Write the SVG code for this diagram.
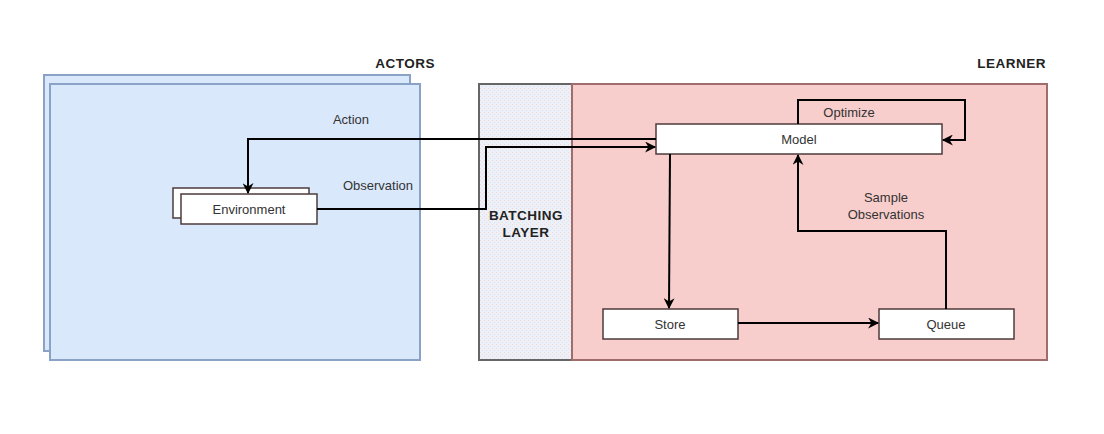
<svg xmlns="http://www.w3.org/2000/svg" width="1104" height="434" viewBox="0 0 1104 434">
<defs>
<marker id="arr" viewBox="0 0 10 10" refX="9" refY="5" markerWidth="12" markerHeight="11" markerUnits="userSpaceOnUse" orient="auto">
<path d="M0,0 L10,5 L0,10 L3,5 Z" fill="#000"/>
</marker>
<pattern id="dots" width="4" height="4" patternUnits="userSpaceOnUse">
<rect width="4" height="4" fill="#eef0f7"/>
<rect x="0" y="0" width="1" height="1" fill="#f3d6d6"/>
<rect x="2" y="2" width="1" height="1" fill="#d8e2f5"/>
</pattern>
</defs>
<style>
.lbl{font-family:"Liberation Sans",Arial,sans-serif;font-size:13px;fill:#333;}
.bold{font-family:"Liberation Sans",Arial,sans-serif;font-size:13.5px;font-weight:bold;fill:#222;letter-spacing:0.5px;}
.box{fill:#fff;stroke:#4d3b3b;stroke-width:1.5;}
.conn{fill:none;stroke:#000;stroke-width:2;}
</style>
<rect width="1104" height="434" fill="#fff"/>
<g id="actors">
<rect x="44" y="75" width="366" height="276" fill="#dae8fc" stroke="#8aa2c6" stroke-width="2"/>
<rect x="50" y="84" width="370" height="276" fill="#dae8fc" stroke="#8aa2c6" stroke-width="2"/>
<text class="bold" x="435" y="68" text-anchor="end">ACTORS</text>
</g>
<g id="batching">
<rect x="479" y="84" width="93" height="276" fill="url(#dots)" stroke="#666" stroke-width="2"/>
<text class="bold" x="526" y="220" text-anchor="middle">BATCHING</text>
<text class="bold" x="526" y="237" text-anchor="middle">LAYER</text>
</g>
<g id="learner">
<rect x="572" y="84" width="475" height="276" fill="#f8cecc" stroke="#a06c6c" stroke-width="2"/>
<text class="bold" x="1046" y="68" text-anchor="end">LEARNER</text>
</g>
<g id="environment">
<rect class="box" x="173" y="188" width="136" height="30"/>
<rect class="box" x="181" y="194" width="136" height="30"/>
<text class="lbl" x="249" y="214" text-anchor="middle">Environment</text>
</g>
<g id="model">
<rect class="box" x="656" y="124" width="286" height="30"/>
<text class="lbl" x="799" y="144" text-anchor="middle">Model</text>
</g>
<g id="store">
<rect class="box" x="603" y="309" width="135" height="30"/>
<text class="lbl" x="670" y="329" text-anchor="middle">Store</text>
</g>
<g id="queue">
<rect class="box" x="879" y="309" width="135" height="30"/>
<text class="lbl" x="946" y="329" text-anchor="middle">Queue</text>
</g>
<g id="connectors">
<path class="conn" d="M656,139 L248,139 L248,193" marker-end="url(#arr)"/>
<path class="conn" d="M317,209 L486,209 L486,147 L655,147" marker-end="url(#arr)"/>
<path class="conn" d="M798,124 L798,100 L965,100 L965,140 L943,140" marker-end="url(#arr)"/>
<path class="conn" d="M670,154 L669,308" marker-end="url(#arr)"/>
<path class="conn" d="M738,323 L878,323" marker-end="url(#arr)"/>
<path class="conn" d="M946,309 L946,231 L798,231 L798,155" marker-end="url(#arr)"/>
<text class="lbl" x="351" y="124" text-anchor="middle">Action</text>
<text class="lbl" x="378" y="190" text-anchor="middle">Observation</text>
<text class="lbl" x="849" y="117" text-anchor="middle">Optimize</text>
<text class="lbl" x="886" y="202" text-anchor="middle">Sample</text>
<text class="lbl" x="886" y="219" text-anchor="middle">Observations</text>
</g>
</svg>
